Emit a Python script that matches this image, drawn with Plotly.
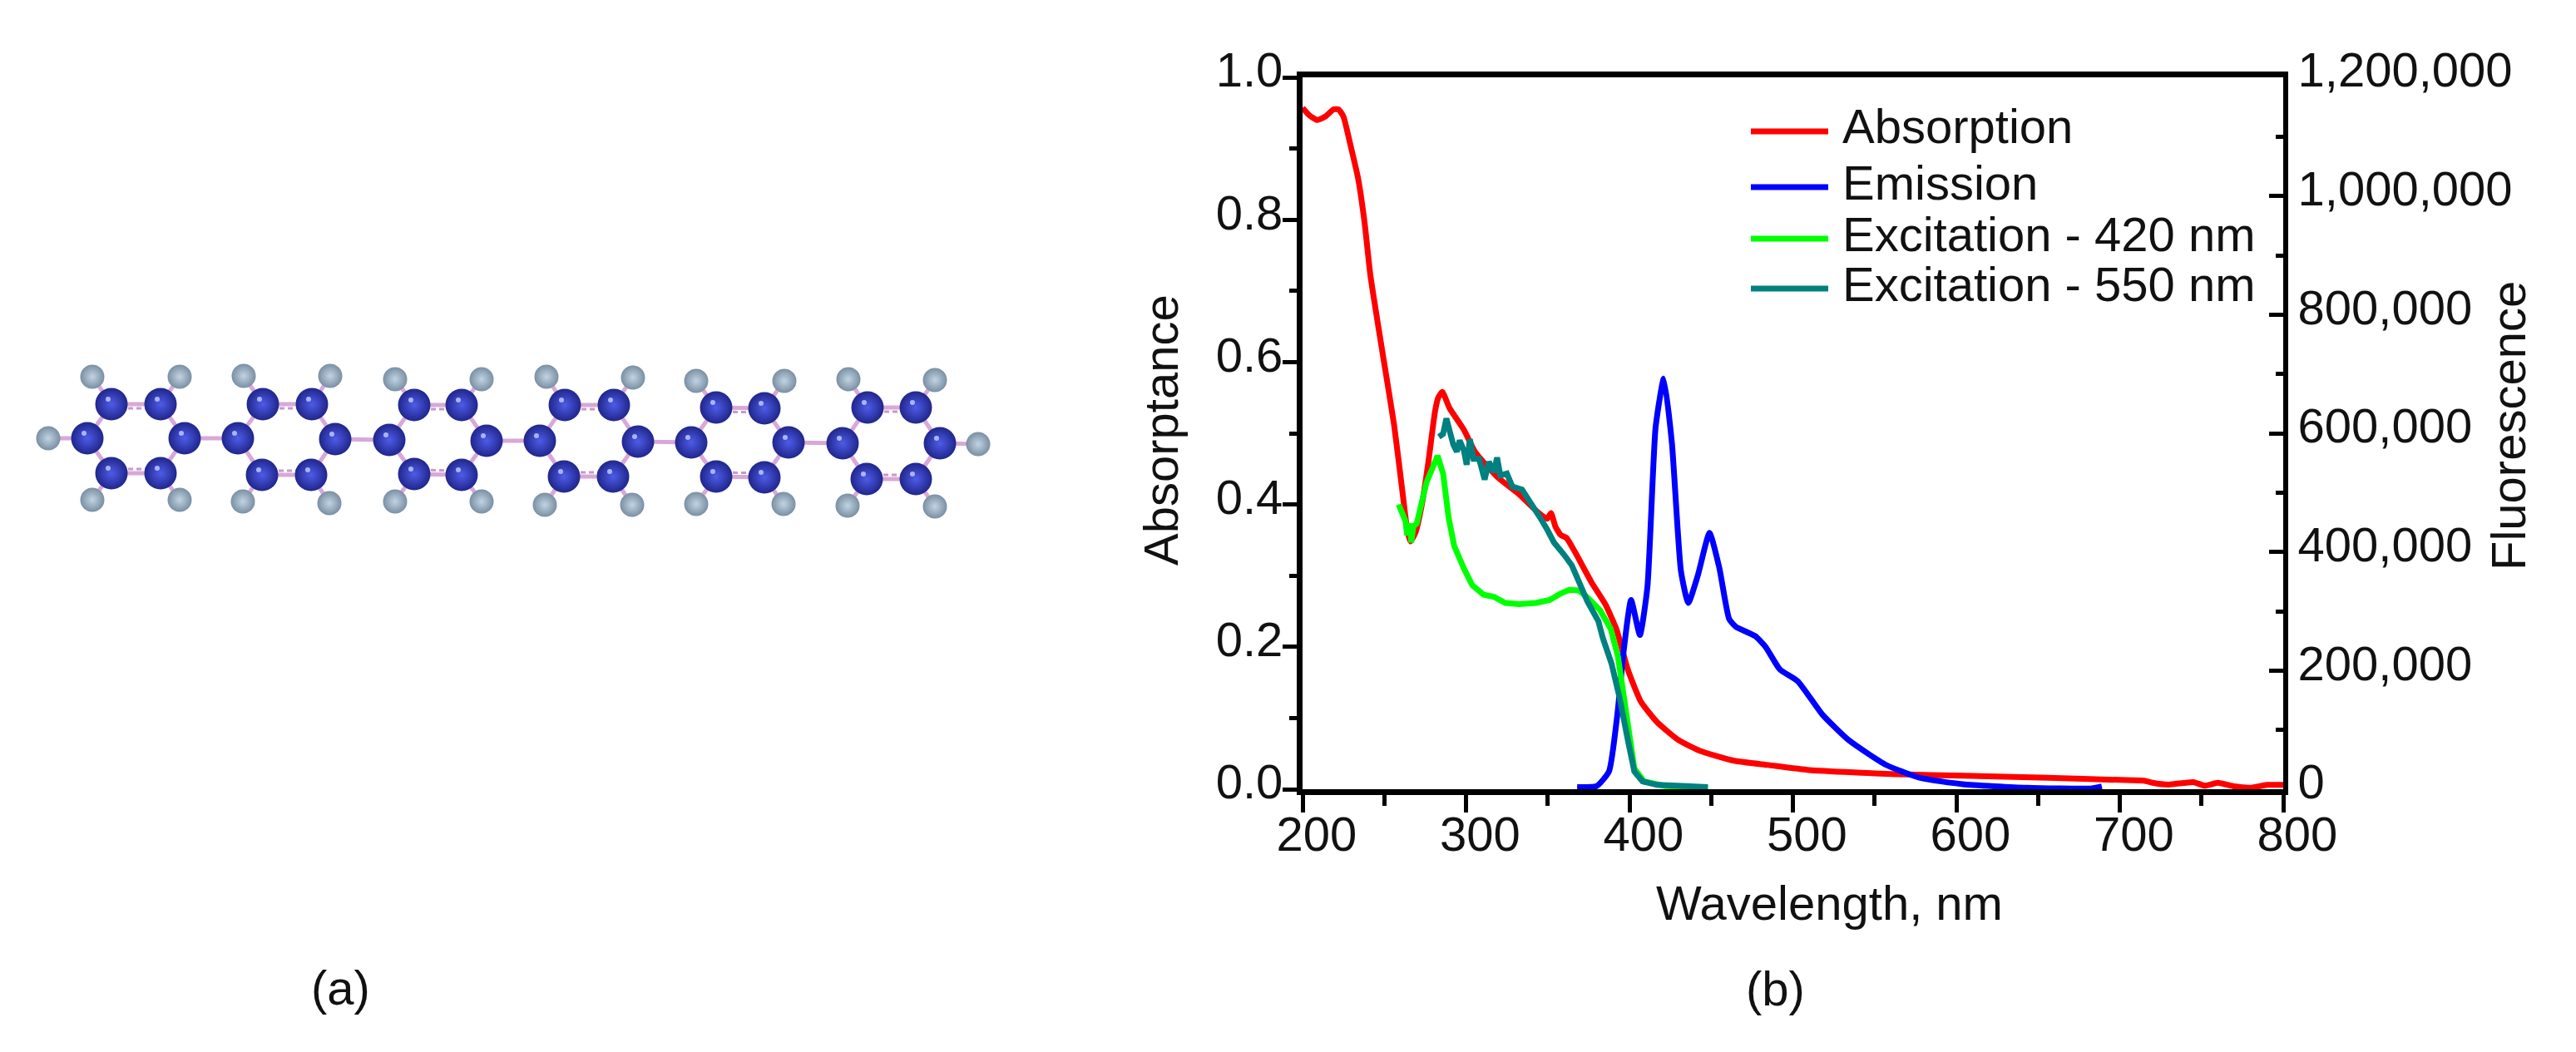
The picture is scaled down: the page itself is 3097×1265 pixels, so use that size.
import plotly.graph_objects as go

W, H = 3097, 1265
FONT = "Liberation Sans"
FS = 58

# ---------- panel (b) data ----------
abs_nm = [200,204,209,214,219,222,225,229,234,238,241.5,249,256,261,264,266,269,273,277,281,283,285.5,
          290,298.7,305.5,319,332.6,344.5,349.6,352,354.7,358,361.5,366.5,376.7,385.2,392,399,407,417,430,443,464,485,510,
          565,604,656,700,715,720,730,745,752,760,770,780,790,800]
abs_val = [0.957,0.947,0.940,0.945,0.955,0.955,0.945,0.908,0.858,0.795,0.722,0.612,0.512,0.42,0.365,0.348,0.36,0.40,0.46,0.53,0.55,0.558,
           0.535,0.505,0.474,0.439,0.414,0.388,0.38,0.388,0.369,0.357,0.353,0.334,0.291,0.26,0.225,0.168,0.123,0.094,0.069,0.054,0.04,0.034,0.027,
           0.021,0.019,0.016,0.013,0.012,0.009,0.0065,0.010,0.005,0.009,0.004,0.002,0.006,0.006]

em_nm = [368,380,387.5,392.6,396.5,401,406.4,411,416,421,426,431.5,436,442,449,455,461,465,477,483.3,492,503,518,534,557,578,604,643,682,689]
em_val = [3600,5400,30000,126000,234000,319000,260000,341000,610000,692000,583000,368000,314000,362000,432000,373000,287000,274000,
          258000,240000,202000,182000,126000,83000,41000,19000,8400,2400,1200,4800]

ex420_nm = [258.8,263,264,265.6,266.5,267.8,269.9,275.8,282.6,286,289.4,292.8,298.7,303.8,310.6,317.3,324.1,332.6,342.8,351.3,358,363.2,369,374,382,388.6,393,398,403,409,422,448]
ex420_val = [480000,452000,428000,448000,416000,443000,448000,517000,562000,532000,457000,410000,372000,344000,328000,324000,314000,312000,314000,319000,330000,336000,335000,324000,302000,270000,223000,126000,35000,13000,5400,2400]

ex550_nm = [283.4,286,288,290.2,292.2,294.4,296.1,298.7,300.4,302.4,304.6,308,311.4,314,317,319,321,325,328.4,334.3,339.4,345.3,349.6,353.8,359.8,364.8,370,374.2,381,383.6,389,394,399,403,408,417,448]
ex550_val = [594000,599000,625000,596000,581000,569000,588000,571000,547000,590000,557000,557000,522000,552000,534000,559000,529000,532000,510000,505000,485000,458000,438000,416000,396000,377000,344000,317000,283000,256000,212000,154000,83000,30000,13000,7200,3600]

legend_names = ["Absorption","Emission","Excitation - 420 nm","Excitation - 550 nm"]
colors = ["#ff0000","#0000ff","#00ff00","#008080"]

# ---------- panel (a) data: atom positions ----------
carbon_x = [105,134,193,222,193,134, 286,316,375,403,374,315, 468,498,555,585,555,498,
            649,679,738,767,737,678, 831,861,919,948,919,861, 1013,1043,1101,1130,1101,1042]
carbon_y = [527,486,486,527,569,569, 527,486,486,528,571,571, 529,487,487,530,571,570,
            530,487,487,531,573,573, 532,490,491,532,574,573, 533,490,490,533,576,576]
hydrogen_x = [58,111,216,111,216, 293,397,292,396, 475,579,475,579, 657,761,655,760, 837,943,837,942, 1020,1124,1019,1124,1176]
hydrogen_y = [527,453,453,601,601, 452,452,603,605, 456,456,603,603, 453,454,607,607, 458,458,606,606, 456,457,608,609,534]
hydrogen_parent = [0,1,2,5,4, 7,8,11,10, 13,14,17,16, 19,20,23,22, 25,26,29,28, 31,32,35,34,33]

bond_x, bond_y, dbl_x, dbl_y = [], [], [], []
for r in range(6):
    i = r * 6
    ring = [i, i+1, i+2, i+3, i+4, i+5, i]
    for a, b in zip(ring[:-1], ring[1:]):
        bond_x += [carbon_x[a], carbon_x[b], None]
        bond_y += [carbon_y[a], carbon_y[b], None]
    for a, b in ((i+1, i+2), (i+5, i+4)):
        off = 5 if a == i+1 else -5
        dbl_x += [carbon_x[a], carbon_x[b], None]
        dbl_y += [carbon_y[a]+off, carbon_y[b]+off, None]
    if r < 5:
        bond_x += [carbon_x[i+3], carbon_x[i+6], None]
        bond_y += [carbon_y[i+3], carbon_y[i+6], None]
for h, p in enumerate(hydrogen_parent):
    bond_x += [hydrogen_x[h], carbon_x[p], None]
    bond_y += [hydrogen_y[h], carbon_y[p], None]

fig = go.Figure()

# spectra
fig.add_trace(go.Scatter(x=abs_nm, y=abs_val, name=legend_names[0], mode="lines", xaxis="x", yaxis="y", cliponaxis=False,
                         showlegend=False, line=dict(color=colors[0], width=7, shape="spline", smoothing=0.5)))
fig.add_trace(go.Scatter(x=em_nm, y=em_val, name=legend_names[1], mode="lines", xaxis="x", yaxis="y2", cliponaxis=False,
                         showlegend=False, line=dict(color=colors[1], width=7, shape="spline", smoothing=0.5)))
fig.add_trace(go.Scatter(x=ex420_nm, y=ex420_val, name=legend_names[2], mode="lines", xaxis="x", yaxis="y2", cliponaxis=False,
                         showlegend=False, line=dict(color=colors[2], width=7)))
fig.add_trace(go.Scatter(x=ex550_nm, y=ex550_val, name=legend_names[3], mode="lines", xaxis="x", yaxis="y2", cliponaxis=False,
                         showlegend=False, line=dict(color=colors[3], width=7)))

# molecule
fig.add_trace(go.Scatter(x=bond_x, y=bond_y, xaxis="x3", yaxis="y3", mode="lines", showlegend=False,
                         line=dict(color="#d8a8d8", width=5), hoverinfo="skip"))
fig.add_trace(go.Scatter(x=dbl_x, y=dbl_y, xaxis="x3", yaxis="y3", mode="lines", showlegend=False,
                         line=dict(color="#c898c8", width=3, dash="6px,4px"), hoverinfo="skip"))
fig.add_trace(go.Scatter(x=hydrogen_x, y=hydrogen_y, xaxis="x3", yaxis="y3", mode="markers", showlegend=False, name="H",
                         marker=dict(size=29, color="#7a8fa2", line=dict(width=0),
                                     gradient=dict(type="radial", color="#c0d4e4"))))
fig.add_trace(go.Scatter(x=carbon_x, y=carbon_y, xaxis="x3", yaxis="y3", mode="markers", showlegend=False, name="C",
                         marker=dict(size=39, color="#20268c", line=dict(width=0),
                                     gradient=dict(type="radial", color="#4e5ce8"))))
fig.add_trace(go.Scatter(x=[v-4 for v in carbon_x], y=[v-6 for v in carbon_y], xaxis="x3", yaxis="y3", mode="markers",
                         showlegend=False, marker=dict(size=6, color="#aab4ff", line=dict(width=0)), hoverinfo="skip"))

L, R, T, B = 1566, 2745, 93, 949
tickfont = dict(family=FONT, size=FS, color="#111111")

def ann(text, x, y, angle=0, anchor="center"):
    return dict(text=text, x=x/W, y=1-y/H, xref="paper", yref="paper", showarrow=False, textangle=angle,
                xanchor=anchor, yanchor="middle", font=tickfont)

annotations = [
    ann("Absorptance", 1395, 517, -90),
    ann("Fluorescence", 3015, 512, -90),
    ann("Wavelength, nm", 2199, 1085),
    ann("(a)", 409, 1187),
    ann("(b)", 2134, 1188),
]
legend_rows = [158, 225, 287, 347]
shapes = []
for name, color, row in zip(legend_names, colors, legend_rows):
    annotations.append(ann(name, 2213, row - 6, anchor="left"))
    shapes.append(dict(type="line", xref="paper", yref="paper", x0=2105/W, x1=2198/W, y0=1-row/H, y1=1-row/H,
                       line=dict(color=color, width=7)))

fig.update_layout(
    width=W, height=H, margin=dict(l=0, r=0, t=0, b=0, autoexpand=False), autosize=False,
    paper_bgcolor="white", plot_bgcolor="rgba(0,0,0,0)", showlegend=False,
    annotations=annotations, shapes=shapes,
    xaxis=dict(domain=[L/W, R/W], range=[200, 800], anchor="y", tick0=200, dtick=100,
               ticks="outside", ticklen=21, tickwidth=5, tickcolor="black", tickfont=tickfont,
               ticklabelshift=17, ticklabelstandoff=-24,
               minor=dict(dtick=50, tick0=0, ticks="outside", ticklen=13, tickwidth=5, tickcolor="black", showgrid=False),
               showline=True, linewidth=7, linecolor="black", mirror=True, showgrid=False, zeroline=False, layer="below traces"),
    yaxis=dict(domain=[1-B/H, 1-T/H], range=[0, 1], anchor="x", tick0=0, dtick=0.2, tickformat=".1f",
               ticks="outside", ticklen=17, tickwidth=5, tickcolor="black", tickfont=tickfont,
               ticklabelshift=-9, ticklabelstandoff=-12,
               minor=dict(dtick=0.1, tick0=0, ticks="outside", ticklen=9, tickwidth=5, tickcolor="black", showgrid=False),
               showline=True, linewidth=7, linecolor="black", showgrid=False, zeroline=False, layer="below traces"),
    yaxis2=dict(domain=[1-B/H, 1-T/H], range=[0, 1200000], anchor="x", overlaying="y", side="right",
                tick0=0, dtick=200000, tickformat=",d",
                ticks="inside", ticklen=17, tickwidth=5, tickcolor="black", tickfont=tickfont,
                ticklabelshift=-9, ticklabelstandoff=0,
                minor=dict(dtick=100000, tick0=0, ticks="inside", ticklen=9, tickwidth=5, tickcolor="black", showgrid=False),
                showline=True, linewidth=6, linecolor="black", showgrid=False, zeroline=False, layer="below traces"),
    xaxis3=dict(domain=[0, 1], range=[0, W], anchor="y3", visible=False),
    yaxis3=dict(domain=[0, 1], range=[H, 0], anchor="x3", visible=False),
)

fig.write_html("out.html", config=dict(displayModeBar=False), post_script="document.body.style.margin='0';")
